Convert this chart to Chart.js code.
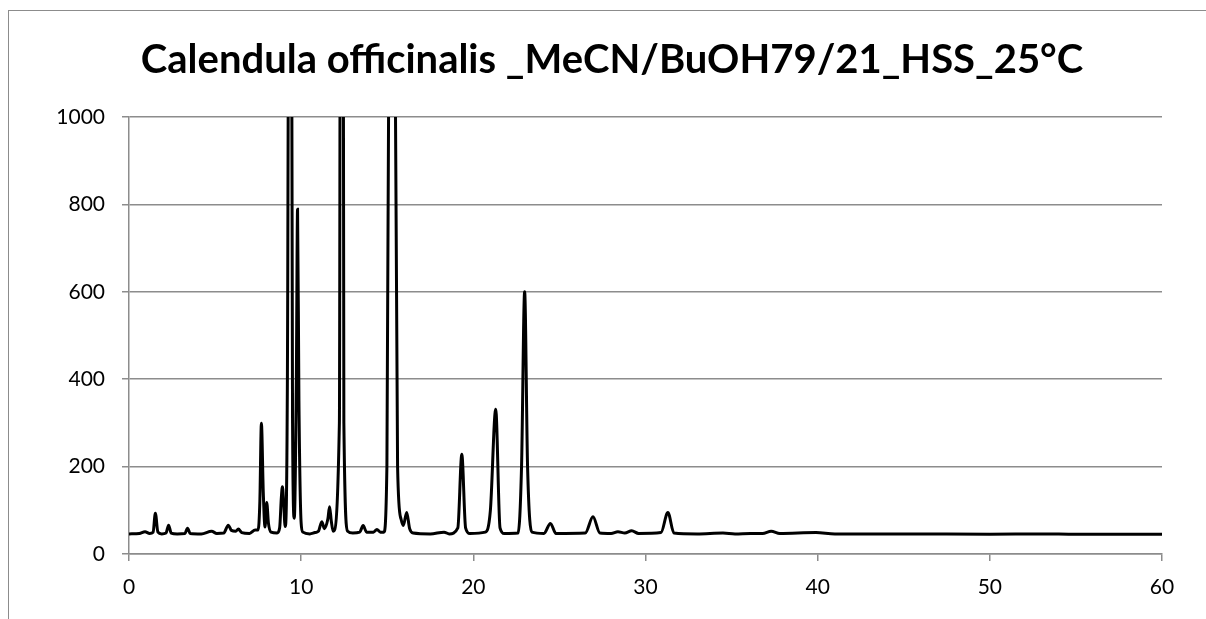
<!DOCTYPE html>
<html>
<head>
<meta charset="utf-8">
<script src="https://cdn.jsdelivr.net/npm/chart.js@4.4.1/dist/chart.umd.min.js"></script>
<style>
  html, body { margin: 0; padding: 0; background: #fff; overflow: hidden; }
  #frame { position: absolute; left: 8px; top: 10px; width: 1300px; height: 700px; border: 1px solid #8c8c8c; }
  #wrap { position: absolute; left: 0; top: 0; width: 1206px; height: 619px; }
  #title { position: absolute; left: 0; top: 34px; width: 1224px; text-align: center;
           font: bold 40px/48px Lato, "Liberation Sans", sans-serif; color: #000; white-space: nowrap; }
</style>
</head>
<body>
<div id="frame"></div>
<div id="wrap"><canvas id="myChart" width="1206" height="619"></canvas></div>
<div id="title"></div>
<script>
// chromatogram: retention time (min) and detector signal
const times = [
  0, 0.6, 0.93, 1.2, 1.4, 1.53, 1.68, 1.9, 2.15, 2.3, 2.45, 2.8, 3.25, 3.4, 3.55,
  4.2, 4.8, 5.1, 5.5, 5.77, 5.95, 6.2, 6.35, 6.55, 7.0, 7.33, 7.5, 7.6, 7.69, 7.8,
  7.9, 8.0, 8.1, 8.25, 8.6, 8.75, 8.85, 8.91, 8.98, 9.07, 9.2, 9.36, 9.5, 9.6, 9.72,
  9.79, 9.87, 10.0, 10.1, 10.5, 10.8, 11.0, 11.2, 11.35, 11.55, 11.65, 11.75, 11.86,
  12.22, 12.35, 12.48, 12.7, 13.0, 13.4, 13.6, 13.8, 14.2, 14.4, 14.6, 14.8, 14.98,
  15.1, 15.3, 15.45, 15.6, 15.8, 15.93, 16.13, 16.3, 16.5, 17.5, 18.3, 18.6, 19.1,
  19.33, 19.55, 19.8, 20.7, 20.99, 21.3, 21.55, 21.8, 22.6, 22.8, 22.98, 23.15, 23.4,
  24.1, 24.48, 24.8, 26.5, 26.95, 27.35, 28.0, 28.4, 28.8, 29.2, 29.6, 30.9, 31.3,
  31.65, 33.0, 34.5, 35.2, 36.1, 36.8, 37.3, 37.8, 39.9, 41.0, 45.0, 50.0, 53.0,
  55.0, 60.0
];
const signal = [
  46, 47, 51, 47, 50, 93, 50, 46, 48, 66, 48, 46, 47, 59, 47,
  46, 52, 47, 48, 66, 54, 52, 57, 49, 47, 55, 55, 120, 299, 140,
  62, 118, 70, 50, 48, 60, 130, 154, 120, 63, 400, 2600, 300, 82, 400,
  789, 350, 70, 50, 46, 49, 52, 74, 58, 80, 108, 75, 52,
  300, 4000, 300, 52, 48, 50, 65, 50, 50, 56, 50, 50, 200,
  1200, 5000, 1200, 200, 80, 65, 95, 58, 48, 46, 50, 46, 60,
  228, 60, 47, 50, 100, 331, 60, 47, 48, 200, 600, 200, 50,
  47, 70, 47, 48, 85, 48, 47, 51, 48, 53, 47, 49, 95,
  48, 46, 48, 46, 47, 47, 52, 47, 49, 46, 46, 45, 46,
  45, 45
];
const xTicks = [0, 10, 20, 30, 40, 50, 60];
const yTicks = [0, 200, 400, 600, 800, 1000];

const chartTitle = 'Calendula officinalis _MeCN/BuOH79/21_HSS_25°C';
const gridGray = '#8c8c8c';
const fontFamily = 'Lato, "Liberation Sans", sans-serif';

document.getElementById('title').textContent = chartTitle;

const points = times.map((t, i) => ({ x: t, y: signal[i] }));

const ctx = document.getElementById('myChart').getContext('2d');
new Chart(ctx, {
  type: 'line',
  data: {
    datasets: [{
      data: points,
      borderColor: '#000',
      borderWidth: 3,
      pointRadius: 0,
      cubicInterpolationMode: 'monotone',
      fill: false,
    }],
  },
  options: {
    responsive: false,
    animation: false,
    layout: { padding: { left: 0, right: 44, top: 117, bottom: 0 } },
    plugins: {
      legend: { display: false },
      tooltip: { enabled: false },
      title: { display: false },
    },
    scales: {
      x: {
        type: 'linear',
        min: xTicks[0],
        max: xTicks[xTicks.length - 1],
        afterBuildTicks: (s) => { s.ticks = xTicks.map((v) => ({ value: v })); },
        afterFit: (s) => { s.height = 65; },
        grid: { drawOnChartArea: false, drawTicks: true, tickLength: 7, color: gridGray, lineWidth: 1.5 },
        border: { display: true, color: gridGray, width: 1.5 },
        ticks: { color: '#000', padding: 14, font: { family: fontFamily, size: 21 }, maxRotation: 0,
          callback: (v) => String(v) },
      },
      y: {
        min: yTicks[0],
        max: yTicks[yTicks.length - 1],
        afterBuildTicks: (s) => { s.ticks = yTicks.map((v) => ({ value: v })); },
        afterFit: (s) => { s.width = 129; },
        grid: { color: gridGray, lineWidth: 1.5, tickLength: 7 },
        border: { display: true, color: gridGray, width: 1.5 },
        ticks: { color: '#000', padding: 17, font: { family: fontFamily, size: 21 },
          callback: (v) => String(v) },
      },
    },
  },
});
</script>
</body>
</html>
